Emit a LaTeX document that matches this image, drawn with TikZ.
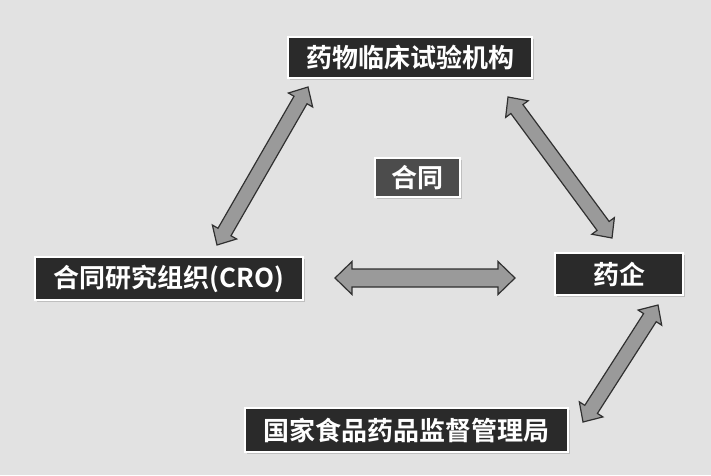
\documentclass[tikz,border=0pt]{standalone}
\usepackage{fontspec}
\setmainfont{Noto Sans CJK SC}[BoldFont={Noto Sans CJK SC Bold}]
\usetikzlibrary{calc,shadows}
\tikzset{
  box/.style={fill=boxfill, draw=white, line width=2pt, text=white, inner sep=0pt,
    font=\fontsize{26}{28}\selectfont\bfseries, drop shadow={shadow xshift=1.5pt, shadow yshift=-1.5pt, opacity=0.35}},
  fatarrow/.style={fill=arrowfill, draw=arrowline, line width=1.2pt, line join=miter}
}
\definecolor{boxfill}{HTML}{2A2A2A}
\definecolor{midfill}{HTML}{4C4C4C}
\definecolor{arrowfill}{HTML}{9A9A9A}
\definecolor{arrowline}{HTML}{303030}
\definecolor{bg}{HTML}{E2E2E2}
% #1 start, #2 end, #3 shaft half width, #4 head half width, #5 head length
\newcommand{\fatdbl}[5]{%
  \coordinate (fa1) at ($(#1)!#5!(#2)$);
  \coordinate (fa2) at ($(#2)!#5!(#1)$);
  \draw[fatarrow] (#1) -- ($(fa1)!#4!90:(#2)$) -- ($(fa1)!#3!90:(#2)$)
    -- ($(fa2)!#3!-90:(#1)$) -- ($(fa2)!#4!-90:(#1)$) -- (#2)
    -- ($(fa2)!#4!90:(#1)$) -- ($(fa2)!#3!90:(#1)$)
    -- ($(fa1)!#3!-90:(#2)$) -- ($(fa1)!#4!-90:(#2)$) -- cycle;}
\begin{document}
\begin{tikzpicture}[x=1pt,y=-1pt]
\fill[bg] (0,0) rectangle (711,475);
\useasboundingbox (0,0) rectangle (711,475);
\node[box, minimum width=244pt, minimum height=41pt] (top) at (410,57.5) {药物临床试验机构};
\node[box, fill=midfill, minimum width=85pt, minimum height=39pt] (ht) at (417.5,177.5) {合同};
\node[box, minimum width=268pt, minimum height=43pt] (cro) at (169,278.5) {合同研究组织(CRO)};
\node[box, minimum width=128pt, minimum height=42pt] (yq) at (619,274) {药企};
\node[box, minimum width=323pt, minimum height=44pt] (gj) at (406.5,430) {国家食品药品监督管理局};
\coordinate (h1) at (335,278); \coordinate (h2) at (515,278);
\coordinate (l1) at (217,245); \coordinate (l2) at (308,87);
\coordinate (r1) at (508,97);  \coordinate (r2) at (612,238);
\coordinate (b1) at (583,422); \coordinate (b2) at (658,305);
\fatdbl{h1}{h2}{9pt}{16.5pt}{17pt}
\fatdbl{l1}{l2}{7.5pt}{14pt}{15pt}
\fatdbl{r1}{r2}{7.5pt}{14pt}{15pt}
\fatdbl{b1}{b2}{7.5pt}{14pt}{15pt}
\end{tikzpicture}
\end{document}
